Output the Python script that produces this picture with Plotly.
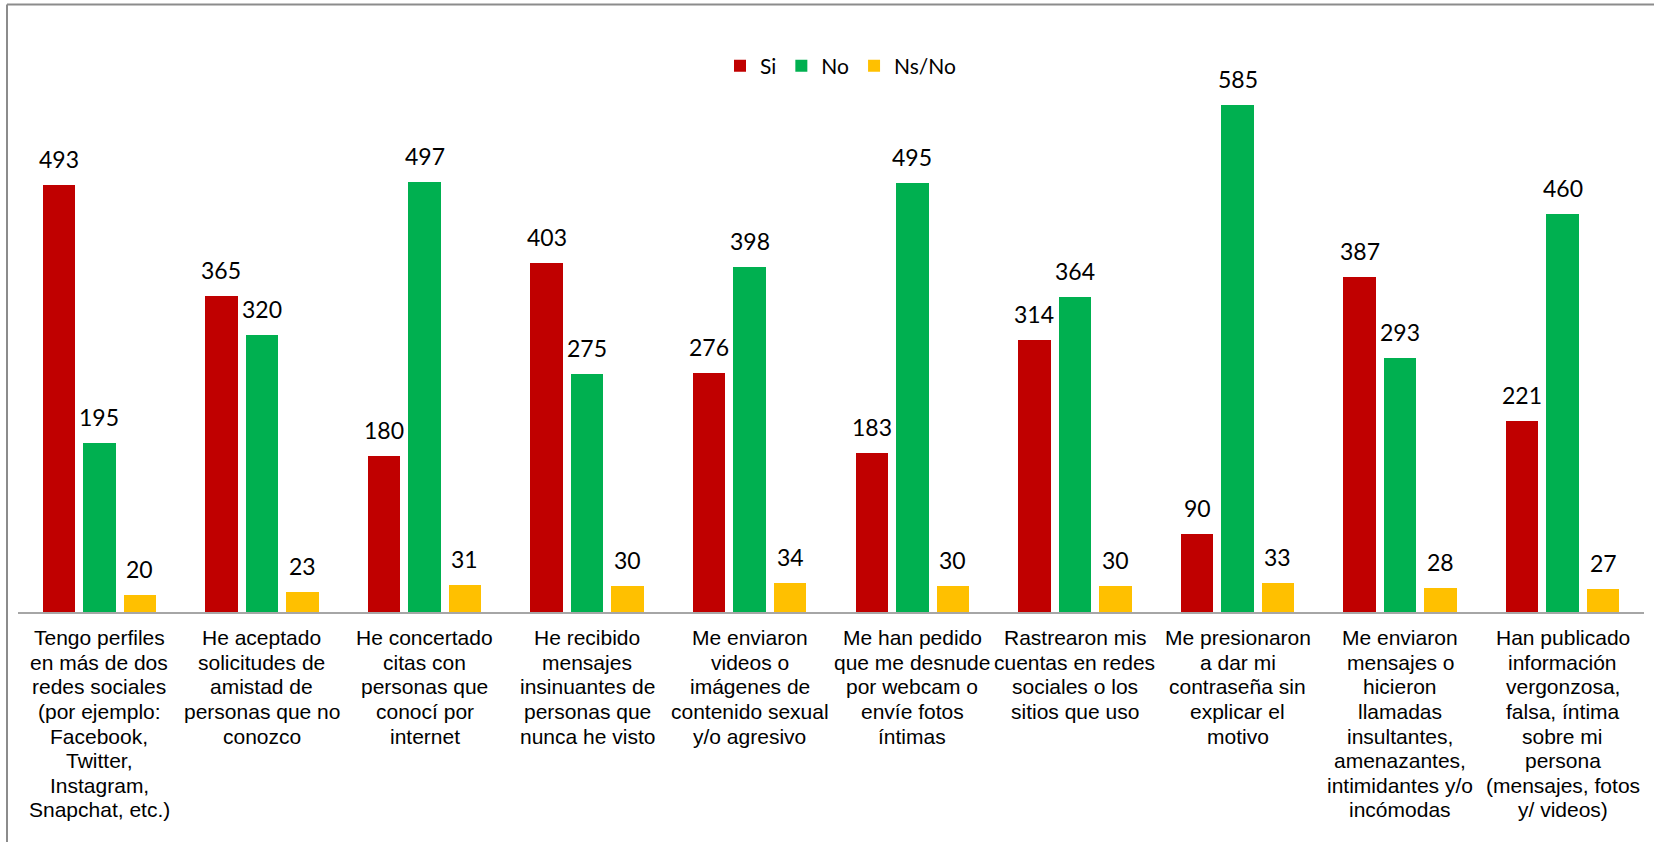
import plotly.graph_objects as go

categories = [
    "Tengo perfiles<br>en más de dos<br>redes sociales<br>(por ejemplo:<br>Facebook,<br>Twitter,<br>Instagram,<br>Snapchat, etc.)",
    "He aceptado<br>solicitudes de<br>amistad de<br>personas que no<br>conozco",
    "He concertado<br>citas con<br>personas que<br>conocí por<br>internet",
    "He recibido<br>mensajes<br>insinuantes de<br>personas que<br>nunca he visto",
    "Me enviaron<br>videos o<br>imágenes de<br>contenido sexual<br>y/o agresivo",
    "Me han pedido<br>que me desnude<br>por webcam o<br>envíe fotos<br>íntimas",
    "Rastrearon mis<br>cuentas en redes<br>sociales o los<br>sitios que uso",
    "Me presionaron<br>a dar mi<br>contraseña sin<br>explicar el<br>motivo",
    "Me enviaron<br>mensajes o<br>hicieron<br>llamadas<br>insultantes,<br>amenazantes,<br>intimidantes y/o<br>incómodas",
    "Han publicado<br>información<br>vergonzosa,<br>falsa, íntima<br>sobre mi<br>persona<br>(mensajes, fotos<br>y/ videos)",
]

si = [493, 365, 180, 403, 276, 183, 314, 90, 387, 221]
no = [195, 320, 497, 275, 398, 495, 364, 585, 293, 460]
nsno = [20, 23, 31, 30, 34, 30, 30, 33, 28, 27]

series_names = ["Si", "No", "Ns/No"]
series_values = [si, no, nsno]
series_colors = ["#C00000", "#00B050", "#FFC000"]

offsets = [-0.249, 0.0, 0.249]
bar_width = 0.2

label_font = dict(family="Lato, Carlito, Calibri, sans-serif", size=23, color="#000000")
cat_font = dict(family="Liberation Sans, Arial, sans-serif", size=21, color="#000000")
cat_first_line_offset = 25.7   # px below the axis to the centre of the first line
cat_line_step = 24.6           # px between label lines

fig = go.Figure()
annotations = []
for name, vals, color, off in zip(series_names, series_values, series_colors, offsets):
    xs = [i + off for i in range(len(categories))]
    fig.add_trace(go.Bar(
        x=xs, y=vals, name=name, width=bar_width,
        marker=dict(color=color, line=dict(width=0)),
    ))
    for x, v in zip(xs, vals):
        annotations.append(dict(
            x=x, y=v, xref="x", yref="y", text=str(v), showarrow=False,
            yanchor="bottom", xanchor="center", yshift=10, font=label_font,
        ))

# category labels (one annotation per text line, to reproduce the tighter line spacing)
for i, cat in enumerate(categories):
    for k, line in enumerate(cat.split("<br>")):
        annotations.append(dict(
            x=i, y=0, xref="x", yref="paper", text=line, showarrow=False,
            xanchor="center", yanchor="middle",
            yshift=-(cat_first_line_offset + k * cat_line_step),
            font=cat_font,
        ))

W, H = 1654, 842
ml, mr, mt, mb = 18, 10, 49, 230
pw = W - ml - mr
ph = H - mt - mb

def px_to_paper_x(px):
    return (px - ml) / pw

def py_to_paper_y(py):
    return (H - mb - py) / ph

shapes = [
    dict(type="line", xref="paper", yref="paper",
         x0=px_to_paper_x(7), x1=px_to_paper_x(W + 5),
         y0=py_to_paper_y(4.5), y1=py_to_paper_y(4.5),
         line=dict(color="#8C8C8C", width=2)),
    dict(type="line", xref="paper", yref="paper",
         x0=px_to_paper_x(7), x1=px_to_paper_x(7),
         y0=py_to_paper_y(4.5), y1=py_to_paper_y(H + 5),
         line=dict(color="#8C8C8C", width=2)),
]

fig.update_layout(
    width=W, height=H,
    margin=dict(l=ml, r=mr, t=mt, b=mb, pad=0),
    paper_bgcolor="white", plot_bgcolor="white",
    showlegend=True,
    legend=dict(
        orientation="h", x=px_to_paper_x(841), xanchor="center",
        y=py_to_paper_y(66), yanchor="middle",
        font=dict(family="Lato, Carlito, Calibri, sans-serif", size=21, color="#000000"),
        bgcolor="rgba(0,0,0,0)", itemwidth=30, tracegroupgap=0,
    ),
    annotations=annotations,
    shapes=shapes,
    xaxis=dict(
        range=[-0.5, len(categories) - 0.5],
        tickmode="array", tickvals=list(range(len(categories))),
        showticklabels=False,
        showgrid=False, zeroline=False, showline=True, linecolor="#A6A6A6", linewidth=2,
        ticks="", automargin=False, fixedrange=True,
    ),
    yaxis=dict(
        range=[0, 650], visible=False, showgrid=False, zeroline=False, fixedrange=True,
    ),
    bargap=0,
)

fig.write_html(
    "out.html",
    config={"displayModeBar": False},
    post_script="document.body.style.margin='0';document.body.style.overflow='hidden';",
)
